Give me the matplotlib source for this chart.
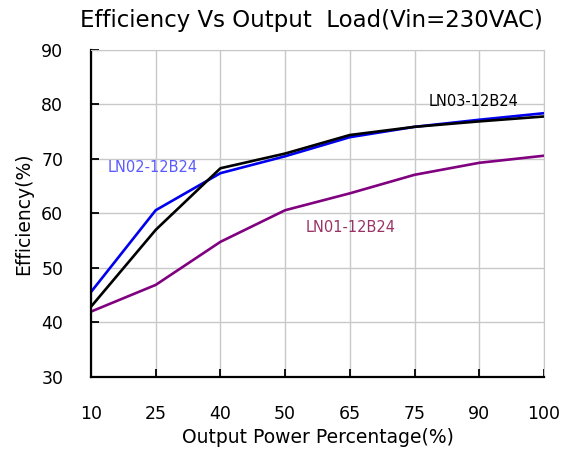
import numpy as np
import matplotlib
matplotlib.use('Agg')
import matplotlib.pyplot as plt

#############################
# Data
#############################
load_labels = ['10', '25', '40', '50', '65', '75', '90', '100']
eff_ln01 = [42.0, 46.9, 54.8, 60.6, 63.7, 67.1, 69.3, 70.6]
eff_ln02 = [45.6, 60.6, 67.4, 70.5, 74.0, 75.9, 77.2, 78.4]
eff_ln03 = [42.9, 57.0, 68.3, 71.0, 74.4, 75.9, 76.9, 77.8]
y_ticks = [30, 40, 50, 60, 70, 80, 90]

plt.rcParams['font.family'] = ['DejaVu Sans']

fig = plt.figure(figsize=(5.67, 4.54), dpi=100)
ax = fig.add_axes([0.1605, 0.1696, 0.7989, 0.7203])

pos = np.arange(len(load_labels))
ax.plot(pos, eff_ln01, color='#800080', lw=1.9)
ax.plot(pos, eff_ln02, color='#0000ee', lw=1.9)
ax.plot(pos, eff_ln03, color='black', lw=1.9)

ax.set_xlim(0, len(load_labels) - 1)
ax.set_ylim(30, 90)
ax.set_xticks(pos)
ax.set_xticklabels(load_labels)
ax.set_yticks(y_ticks)
ax.grid(True, color='#c8c8c8', lw=1)
ax.set_axisbelow(True)

for s in ['top', 'right']:
    ax.spines[s].set_color('#c8c8c8')
for s in ['left', 'bottom']:
    ax.spines[s].set_linewidth(1.6)
ax.tick_params(direction='in', length=6, width=1.3, labelsize=12.5, pad=20)

ax.text(0.26, 68.5, 'LN02-12B24', color='#5a5aff', fontsize=10.5, va='center')
ax.text(5.21, 80.6, 'LN03-12B24', color='black', fontsize=10.5, va='center')
ax.text(3.31, 57.5, 'LN01-12B24', color='#993366', fontsize=10.5, va='center')

fig.text(0.55, 0.955, 'Efficiency Vs Output  Load(Vin=230VAC)', fontsize=16.5,
         ha='center', va='center')
ax.set_xlabel('Output Power Percentage(%)', fontsize=13.5, labelpad=4)
ax.set_ylabel('Efficiency(%)', fontsize=13.5, labelpad=6)

fig.savefig('out.png', dpi=100)
